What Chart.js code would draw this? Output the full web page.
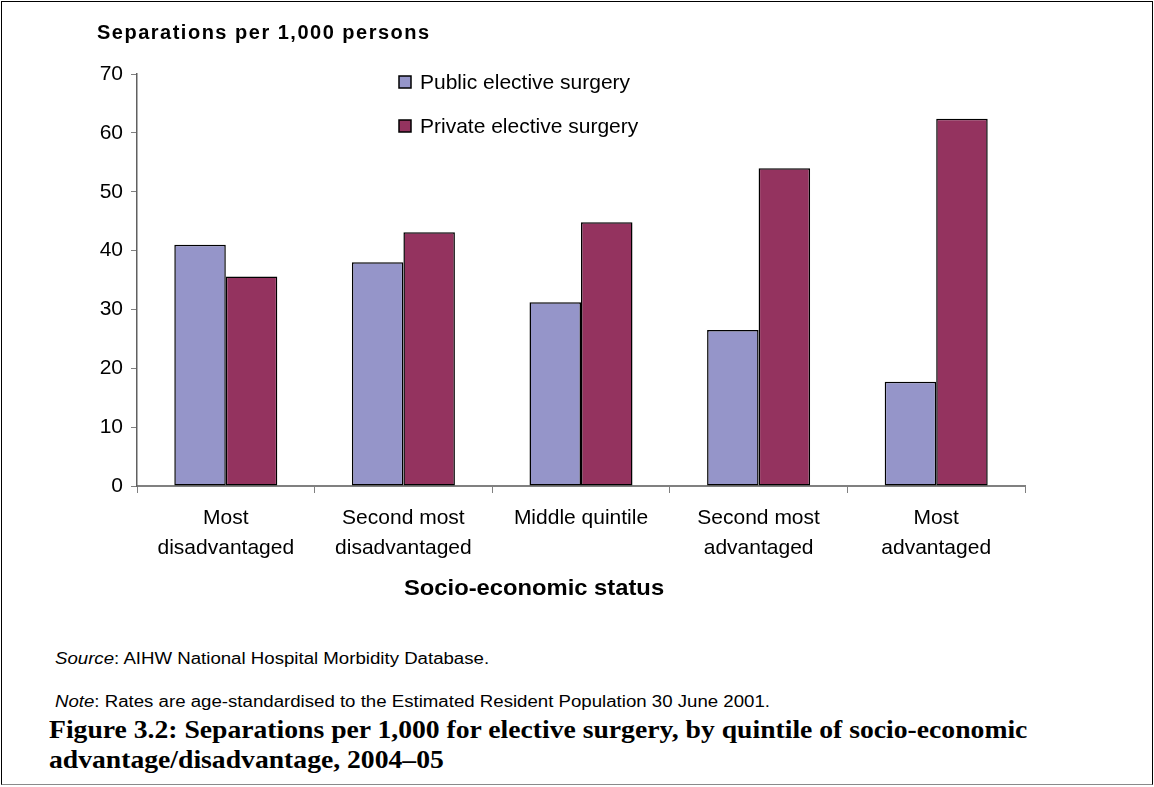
<!DOCTYPE html>
<html>
<head>
<meta charset="utf-8">
<title>Separations per 1,000 for elective surgery</title>
<script src="https://cdn.jsdelivr.net/npm/chart.js@4/dist/chart.umd.min.js"></script>
<style>
  html, body { margin: 0; padding: 0; background: #fff; }
  #page { position: relative; width: 1154px; height: 787px; overflow: hidden; background: #fff; }
  #frame { position: absolute; left: 1px; top: 1px; width: 1150px; height: 782px;
           border: 1px solid #000; border-bottom-color: #8a8a8a; }
  #chart { position: absolute; left: 0; top: 0; }
  .t { position: absolute; white-space: nowrap; color: #000; transform-origin: 0 50%;
       font-family: "Liberation Sans", Arial, sans-serif; }
  .serif { font-family: "Liberation Serif", "Times New Roman", serif; font-weight: bold; }
</style>
</head>
<body>
<div id="page">
  <div id="frame"></div>
  <canvas id="chart" width="1154" height="640"></canvas>

  <div class="t" style="left:97px; top:21px; line-height:22px; font-size:20px; font-weight:bold; letter-spacing:1.5px;">Separations per 1,000 persons</div>
  <div class="t" style="left:404px; top:575px; line-height:26px; font-size:22px; font-weight:bold; transform:scaleX(1.08);">Socio-economic status</div>
  <div class="t" style="left:55px; top:649px; line-height:20px; font-size:16px; transform:scaleX(1.165);"><i>Source</i>: AIHW National Hospital Morbidity Database.</div>
  <div class="t" style="left:55px; top:692px; line-height:20px; font-size:16px; transform:scaleX(1.165);"><i>Note</i>: Rates are age-standardised to the Estimated Resident Population 30 June 2001.</div>
  <div class="t serif" style="left:49px; top:715px; line-height:30px; font-size:25px; transform:scaleX(1.106); transform-origin:0 0;">Figure 3.2: Separations per 1,000 for elective surgery, by quintile of socio-economic<br>advantage/disadvantage, 2004–05</div>
</div>

<script>
// Quintiles of socio-economic advantage/disadvantage (multi-line axis labels)
const categories = [
  ["Most", "disadvantaged"],
  ["Second most", "disadvantaged"],
  ["Middle quintile"],
  ["Second most", "advantaged"],
  ["Most", "advantaged"]
];

// Separations per 1,000 persons, 2004–05
const publicRates  = [41.0, 38.0, 31.2, 26.5, 17.7];
const privateRates = [35.6, 43.1, 44.8, 54.0, 62.4];

// Y axis tick values
const yTicks = [0, 10, 20, 30, 40, 50, 60, 70];

const seriesNames = ["Public elective surgery", "Private elective surgery"];
const seriesColors = ["#9595C9", "#94335F"];

// Stacked key drawn inside the plot area
const keyPlugin = {
  id: "stackedKey",
  afterDraw(chart, args, opts) {
    const ctx = chart.ctx;
    ctx.save();
    chart.data.datasets.forEach((ds, i) => {
      const y = opts.top + i * opts.gap;
      ctx.fillStyle = ds.backgroundColor;
      ctx.fillRect(opts.left, y, opts.box, opts.box);
      ctx.strokeStyle = "#000";
      ctx.lineWidth = 1.5;
      ctx.strokeRect(opts.left, y, opts.box, opts.box);
      ctx.fillStyle = "#000";
      ctx.font = opts.font;
      ctx.textBaseline = "middle";
      ctx.textAlign = "left";
      ctx.fillText(ds.label, opts.left + opts.box + 9, y + opts.box / 2 + 1);
    });
    ctx.restore();
  }
};

Chart.defaults.font.family = '"Liberation Sans", Arial, sans-serif';
Chart.defaults.color = "#000";

new Chart(document.getElementById("chart"), {
  type: "bar",
  data: {
    labels: categories,
    datasets: [
      { label: seriesNames[0], data: publicRates, backgroundColor: seriesColors[0],
        borderColor: "#000", borderWidth: 1.5, borderSkipped: false },
      { label: seriesNames[1], data: privateRates, backgroundColor: seriesColors[1],
        borderColor: "#000", borderWidth: 1.5, borderSkipped: false }
    ]
  },
  options: {
    responsive: false,
    animation: false,
    devicePixelRatio: 1,
    layout: { padding: { left: 0, top: 74, right: 129, bottom: 0 } },
    datasets: { bar: { categoryPercentage: 0.58, barPercentage: 1.0 } },
    plugins: {
      legend: { display: false },
      tooltip: { enabled: false },
      stackedKey: { left: 399, top: 76, gap: 44, box: 12, font: '21px "Liberation Sans", Arial, sans-serif' }
    },
    scales: {
      x: {
        grid: { display: true, drawOnChartArea: false, drawTicks: true, tickLength: 7, color: "#808080", lineWidth: 1, offset: true },
        border: { display: true, color: "#808080", width: 2 },
        ticks: { color: "#000", font: { size: 21, lineHeight: 1.43 }, padding: 10, maxRotation: 0, autoSkip: false },
        afterFit: (s) => { s.height = 154; }
      },
      y: {
        min: yTicks[0],
        max: yTicks[yTicks.length - 1],
        afterBuildTicks: (s) => { s.ticks = yTicks.map(v => ({ value: v })); },
        grid: { display: true, drawOnChartArea: false, drawTicks: true, tickLength: 6, color: "#808080" },
        border: { display: true, color: "#606060", width: 1.5 },
        ticks: { color: "#000", font: { size: 21 }, padding: 8 },
        afterFit: (s) => { s.width = 137; }
      }
    }
  },
  plugins: [keyPlugin]
});
</script>
</body>
</html>
